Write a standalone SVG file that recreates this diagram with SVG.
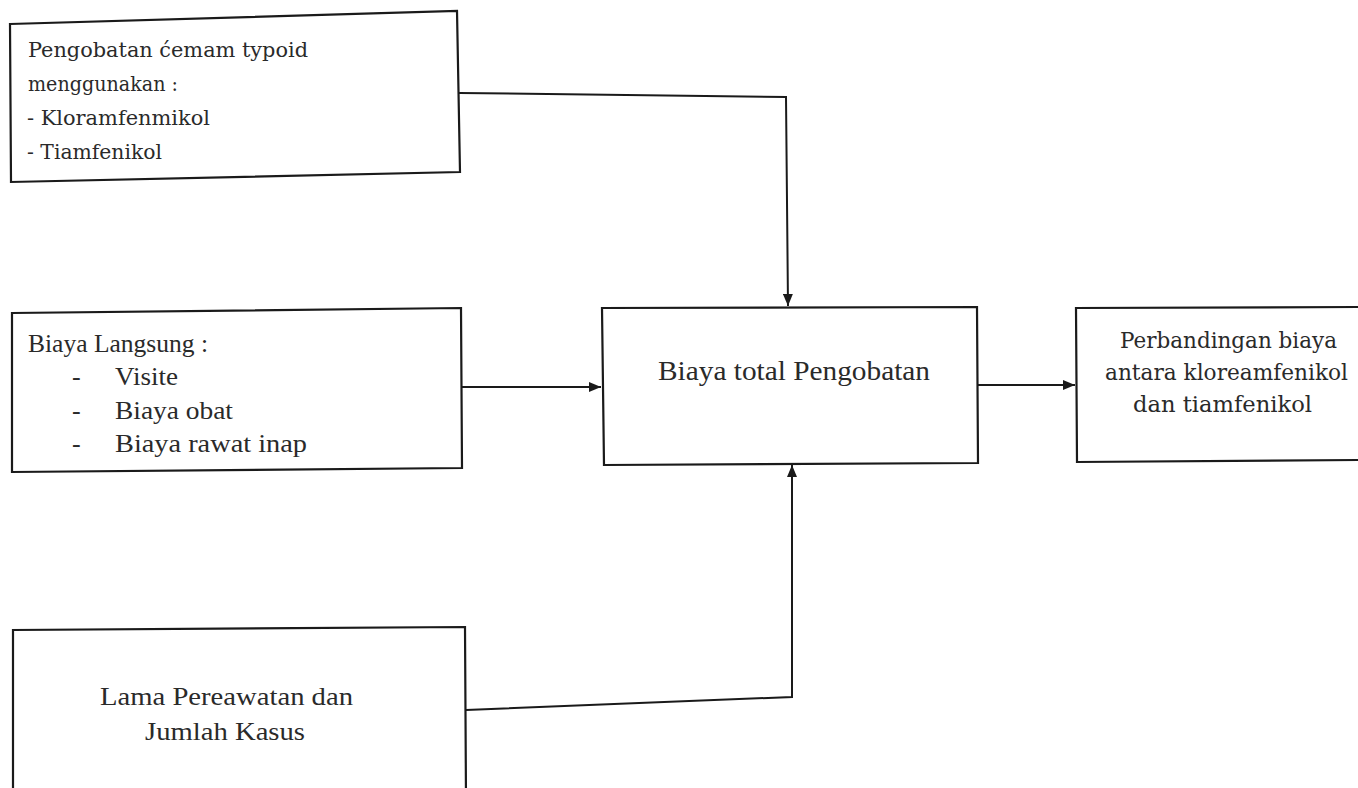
<svg xmlns="http://www.w3.org/2000/svg" width="1358" height="788" viewBox="0 0 1358 788">
<defs>
<style>
.box{fill:none;stroke:#1a1a1a;stroke-width:2.2;stroke-linejoin:miter}
.con{fill:none;stroke:#1a1a1a;stroke-width:2}
.ts{font-family:"Liberation Serif","Times New Roman",serif;fill:#2a2a2a}
.td{font-family:"DejaVu Serif","Liberation Serif",serif;fill:#2a2a2a}
</style>
<marker id="arr" viewBox="0 0 12 10" refX="12" refY="5" markerWidth="12" markerHeight="10" markerUnits="userSpaceOnUse" orient="auto">
<path d="M0,0 L12,5 L0,10 Z" fill="#1a1a1a"/>
</marker>
</defs>
<rect width="1358" height="788" fill="#ffffff"/>
<g id="node-pengobatan">
<path class="box" d="M10,24 L457,11 L460,172 L11,182 Z"/>
<text class="td" font-size="20" x="28" y="57" textLength="280" lengthAdjust="spacingAndGlyphs">Pengobatan ćemam typoid</text>
<text class="td" font-size="20" x="28" y="91" textLength="150" lengthAdjust="spacingAndGlyphs">menggunakan :</text>
<text class="td" font-size="20" x="27" y="125" textLength="183" lengthAdjust="spacingAndGlyphs">- Kloramfenmikol</text>
<text class="td" font-size="20" x="27" y="159" textLength="135" lengthAdjust="spacingAndGlyphs">- Tiamfenikol</text>
</g>
<g id="node-biaya-langsung">
<path class="box" d="M12,313 L461,308 L462,468 L12,472 Z"/>
<text class="ts" font-size="26" x="28" y="352" textLength="180" lengthAdjust="spacingAndGlyphs">Biaya Langsung :</text>
<text class="ts" font-size="26" x="72" y="385">-</text>
<text class="ts" font-size="26" x="115" y="385" textLength="63" lengthAdjust="spacingAndGlyphs">Visite</text>
<text class="ts" font-size="26" x="72" y="419">-</text>
<text class="ts" font-size="26" x="115" y="419" textLength="118" lengthAdjust="spacingAndGlyphs">Biaya obat</text>
<text class="ts" font-size="26" x="72" y="452">-</text>
<text class="ts" font-size="26" x="115" y="452" textLength="192" lengthAdjust="spacingAndGlyphs">Biaya rawat inap</text>
</g>
<g id="node-biaya-total">
<path class="box" d="M602,308 L977,307 L978,463 L604,465 Z"/>
<text class="ts" font-size="28" x="658" y="380" textLength="272" lengthAdjust="spacingAndGlyphs">Biaya total Pengobatan</text>
</g>
<g id="node-perbandingan">
<path class="box" d="M1360,307 L1076,308 L1077,462 L1360,460"/>
<text class="td" font-size="22" x="1120" y="348" textLength="217" lengthAdjust="spacingAndGlyphs">Perbandingan biaya</text>
<text class="td" font-size="22" x="1105" y="380" textLength="243" lengthAdjust="spacingAndGlyphs">antara kloreamfenikol</text>
<text class="td" font-size="22" x="1133" y="412" textLength="179" lengthAdjust="spacingAndGlyphs">dan tiamfenikol</text>
</g>
<g id="node-lama-perawatan">
<path class="box" d="M13,800 L13,630 L465,627 L466,800"/>
<text class="ts" font-size="26" x="100" y="705" textLength="253" lengthAdjust="spacingAndGlyphs">Lama Pereawatan dan</text>
<text class="ts" font-size="26" x="145" y="740" textLength="160" lengthAdjust="spacingAndGlyphs">Jumlah Kasus</text>
</g>
<g id="connectors">
<path class="con" d="M459,93 L786,97 L788,306" marker-end="url(#arr)"/>
<path class="con" d="M462,387 L601,387" marker-end="url(#arr)"/>
<path class="con" d="M978,385 L1075,385" marker-end="url(#arr)"/>
<path class="con" d="M466,710 L792,697 L792,465" marker-end="url(#arr)"/>
</g>
</svg>
